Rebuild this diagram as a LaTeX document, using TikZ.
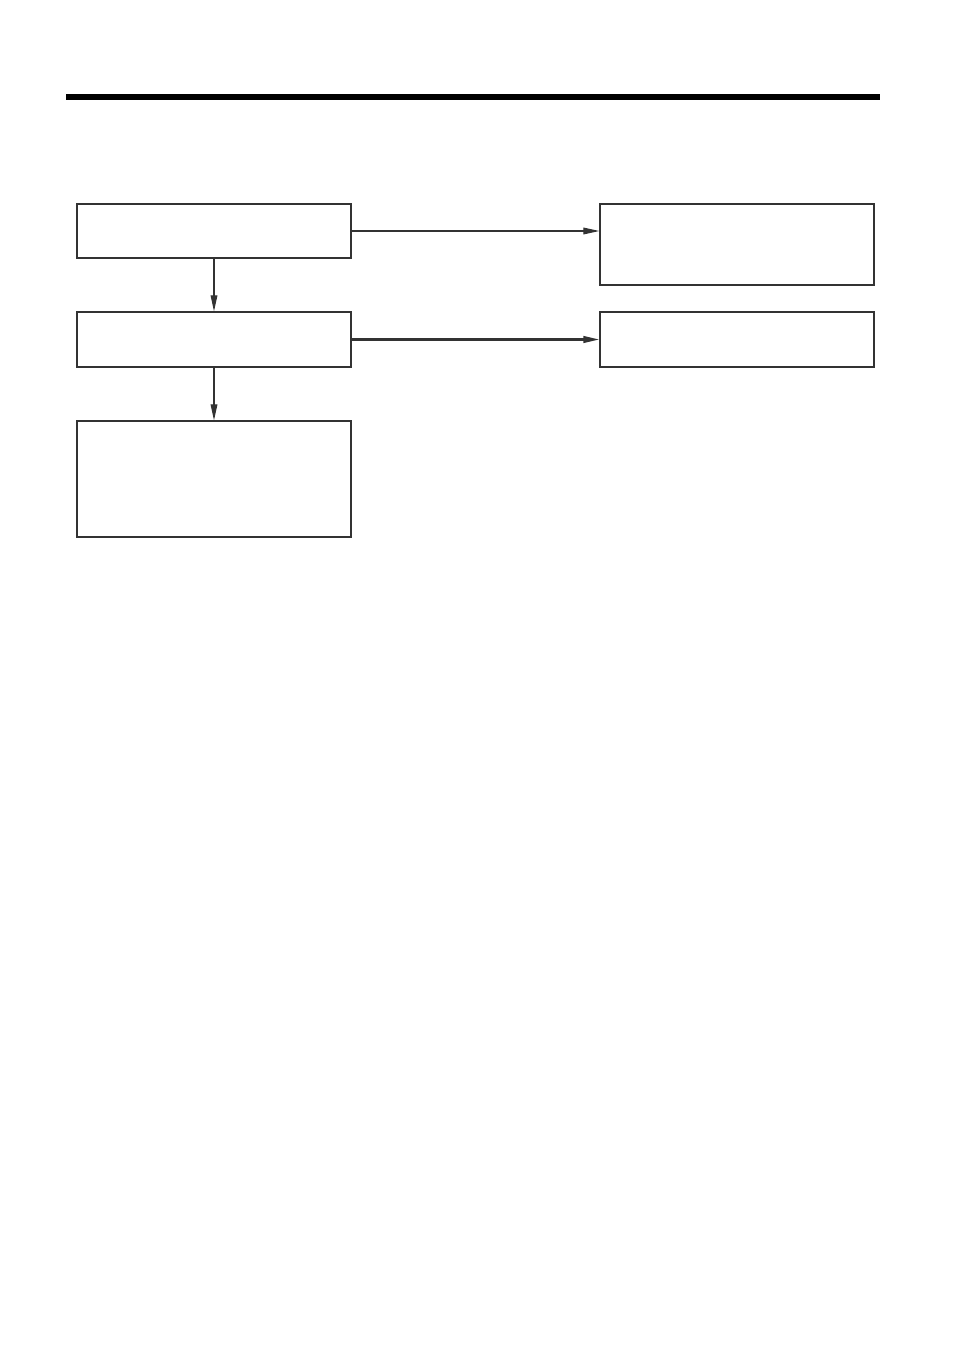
\documentclass[tikz,border=0pt]{standalone}
\usetikzlibrary{arrows.meta,positioning}

\tikzset{
    blk/.style={draw=black!80, line width=1pt, minimum width=205.5pt, inner sep=0pt},
    flow/.style={draw=black!80, line width=0.9pt, -{Triangle[length=12pt,width=5pt]}},
}

\begin{document}
\begin{tikzpicture}[x=0.75pt, y=-0.75pt]
    \useasboundingbox (0,0) rectangle (953,1352);

    % heavy rule across the top of the page
    \fill[black] (66,94) rectangle (880,100);

    % left column
    \node[blk, minimum height=40.5pt] (first) at (214,231) {};
    \node[blk, minimum height=41.25pt] (second) at (214,339.5) {};
    \node[blk, minimum height=87pt] (third) at (214,479) {};

    % right column
    \node[blk, minimum height=60.75pt] (sideA) at (737,244.5) {};
    \node[blk, minimum height=41.25pt] (sideB) at (737,339.5) {};

    % vertical links
    \draw[flow] (first) -- (second);
    \draw[flow] (second) -- (third);

    % horizontal links (upper one ends level with the first box)
    \coordinate (hitA) at (sideA.west |- first.east);
    \draw[flow] (first.east) -- (hitA);
    \draw[flow, line width=1.6pt] (second) -- (sideB);

\end{tikzpicture}
\end{document}
